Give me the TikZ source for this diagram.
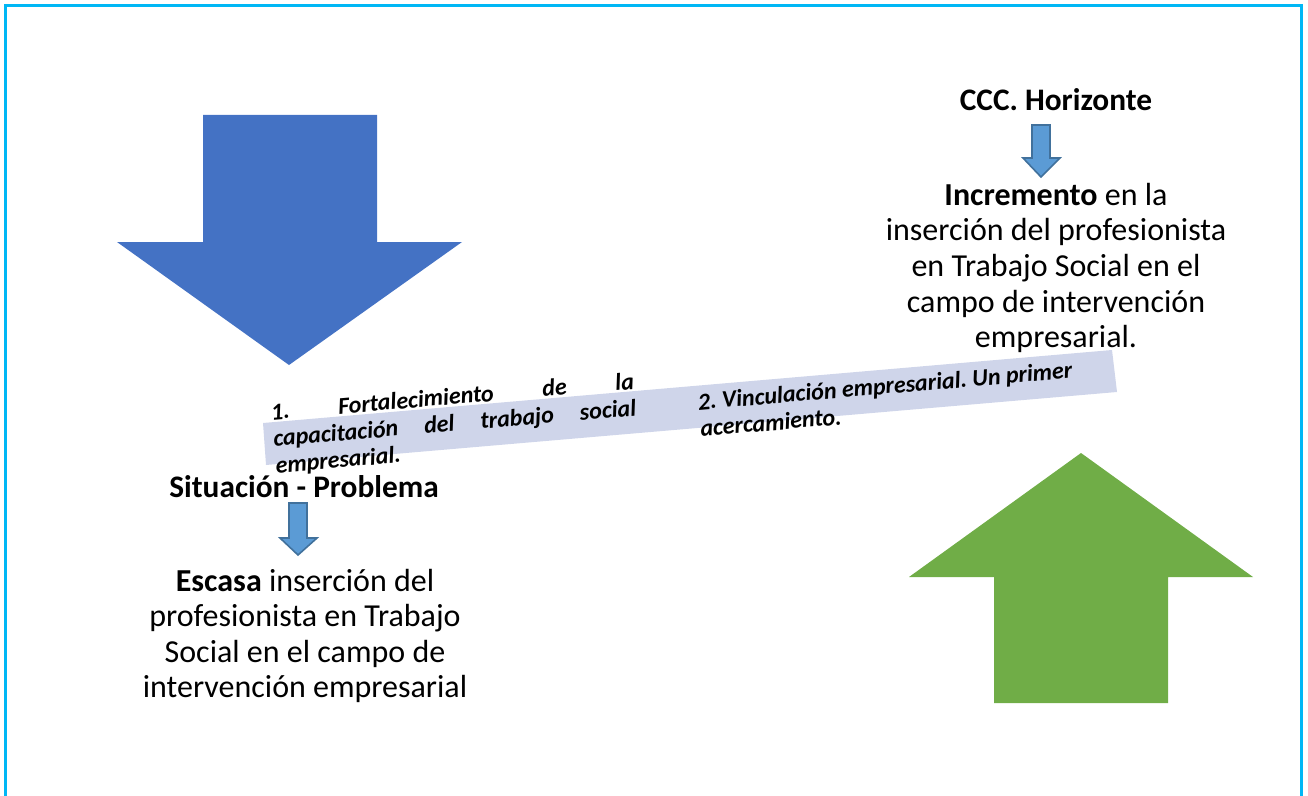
\documentclass[tikz,border=0pt]{standalone}
\usepackage{fontspec}
\setmainfont{Carlito}
\usepackage{tikz}
\definecolor{frame}{RGB}{0,183,245}
\definecolor{bigblue}{RGB}{68,114,196}
\definecolor{biggreen}{RGB}{112,173,71}
\definecolor{smallfill}{RGB}{91,155,213}
\definecolor{smallline}{RGB}{65,113,156}
\definecolor{band}{RGB}{207,213,234}

\begin{document}
\begin{tikzpicture}[x=0.75pt,y=-0.75pt,
    body/.style={align=center,inner sep=0pt,font=\fontsize{24}{26.7}\selectfont},
    head/.style={inner sep=0pt,font=\fontsize{23.5}{26}\selectfont\bfseries},
    bandtext/.style={inner sep=0pt,rotate=4.9,font=\fontsize{18}{20}\selectfont\bfseries\itshape\frenchspacing},
    smallarrow/.style={fill=smallfill,draw=smallline,line width=1.2pt,line join=miter}]
          \useasboundingbox (0,0) rectangle (1308,795);
          % frame
          \draw[frame,line width=2.2pt] (5.5,5.5) -- (1301.5,5.5) -- (1301.5,810) -- (5.5,810) -- cycle;
          % big blue arrow
          \fill[bigblue] (203,115) -- (377,115) -- (377,242) -- (462,242) -- (289,365) -- (117,242) -- (203,242) -- cycle;
          % big green arrow
          \fill[biggreen] (994,703) -- (1168,703) -- (1168,577) -- (1253,577) -- (1081,453) -- (909,577) -- (994,577) -- cycle;
          % tilted band
          \fill[band] (263,423) -- (1112,350) -- (1117,392) -- (266,465) -- cycle;
          % band texts
          \node[bandtext,anchor=north west,text width=273pt,align=justify] (linea1) at (270,403)
            {1. Fortalecimiento de la\linebreak capacitación del trabajo social\linebreak empresarial.};
          \node[bandtext,anchor=north west,align=left] (linea2) at (697,393)
            {2. Vinculación empresarial. Un primer\\ acercamiento.};
          % right side
          \node[head] (horizonte) at (1056,100) {CCC. Horizonte};
          \fill[smallarrow] (1032,125) -- (1050,125) -- (1050,158) -- (1060,158) -- (1041,177) -- (1023,158) -- (1032,158) -- cycle;
          \node[body] (incremento) at (1056,268) {\textbf{Incremento} en la\\ inserción del profesionista\\ en Trabajo Social en el\\ campo de intervención\\ empresarial.};
          % left side
          \node[head] (situacion) at (304,487) {Situación - Problema};
          \fill[smallarrow] (289,503) -- (307,503) -- (307,538) -- (317,538) -- (298,555) -- (280,538) -- (289,538) -- cycle;
          \node[body] (escasa) at (305,636) {\textbf{Escasa} inserción del\\ profesionista en Trabajo\\ Social en el campo de\\ intervención empresarial};
        \end{tikzpicture}
\end{document}
